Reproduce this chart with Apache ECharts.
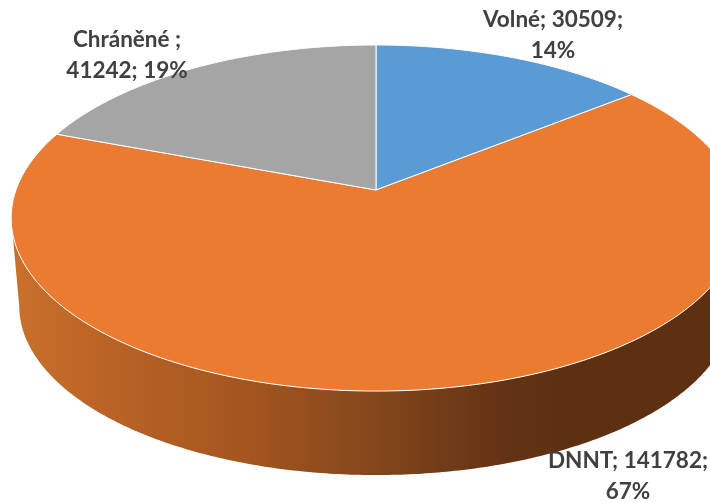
<!DOCTYPE html>
<html>
<head>
<meta charset="utf-8">
<style>html,body{margin:0;padding:0;background:#fff}#c{width:710px;height:503px}</style>
<script src="https://cdn.jsdelivr.net/npm/echarts@6/dist/echarts.min.js"></script>
</head>
<body>
<div id="c"></div>
<script>
const names = ['Volné', 'DNNT', 'Chráněné '];
const values = [30509, 141782, 41242];
const percentLabels = ['14%', '67%', '19%'];
const topColors = ['#5b9bd5', '#ea7b30', '#a5a5a5'];

// label layout: anchor and which part the line break follows
const labelLayout = [
  { x: 553, y: 35, breakAfter: 2 },
  { x: 628, y: 476, breakAfter: 2 },
  { x: 127, y: 55, breakAfter: 1 }
];
// 3D projection of the pie disc
const view = { cx: 376, cy: 190, rx: 360, ry: 168.5, k: -0.162 };
const base = { cy: 278.4, scale: 0.978 };

const total = values.reduce((a, b) => a + b, 0);
function rim(theta, cy, s) {
  const u = Math.sin(theta), v = -Math.cos(theta), w = 1 + view.k * v;
  return [view.cx + s * view.rx * u / w, cy + s * view.ry * v / w];
}
function span(i) {
  let before = 0;
  for (let j = 0; j < i; j++) before += values[j];
  return [before / total * 2 * Math.PI, (before + values[i]) / total * 2 * Math.PI];
}
function arc(a, b, cy, s) {
  const n = Math.max(2, Math.ceil((b - a) / 0.01));
  const pts = [];
  for (let i = 0; i <= n; i++) pts.push(rim(a + (b - a) * i / n, cy, s));
  return pts;
}
// the side wall only shows between the two silhouette tangents of the disc
const frontFrom = Math.acos(view.k);
const frontTo = 2 * Math.PI - frontFrom;
const wallFill = new echarts.graphic.LinearGradient(11, 0, 741, 0, [
  { offset: 0, color: '#c9712c' },
  { offset: 0.12, color: '#bb6426' },
  { offset: 0.314, color: '#a5561f' },
  { offset: 0.5, color: '#84461b' },
  { offset: 0.67, color: '#633314' },
  { offset: 0.75, color: '#5e3012' },
  { offset: 1, color: '#5e3012' }
], true);

const chart = echarts.init(document.getElementById('c'), null, { renderer: 'canvas' });
chart.setOption({
  animation: false,
  backgroundColor: '#ffffff',
  series: [
    {
      type: 'custom', coordinateSystem: 'none', z: 1, silent: true,
      data: values,
      renderItem(params) {
        const s = span(params.dataIndex);
        const a = Math.max(s[0], frontFrom), b = Math.min(s[1], frontTo);
        if (b <= a) return null;
        const pts = arc(a, b, view.cy, 1).concat(arc(a, b, base.cy, base.scale).reverse());
        return { type: 'polygon', shape: { points: pts }, style: { fill: wallFill } };
      }
    },
    {
      type: 'custom', coordinateSystem: 'none', z: 2, silent: true,
      data: values,
      renderItem(params) {
        const i = params.dataIndex;
        const [a, b] = span(i);
        const pts = [[view.cx, view.cy]].concat(arc(a, b, view.cy, 1));
        return {
          type: 'polygon', shape: { points: pts },
          style: { fill: topColors[i], stroke: '#ffffff', lineWidth: 1, lineJoin: 'round' }
        };
      }
    },
    {
      type: 'custom', coordinateSystem: 'none', z: 3, silent: true,
      data: values,
      renderItem(params, api) {
        const i = params.dataIndex, l = labelLayout[i];
        const parts = [names[i] + ';', api.value(0) + ';', percentLabels[i]];
        const text = parts.slice(0, l.breakAfter).join(' ') + '\n' + parts.slice(l.breakAfter).join(' ');
        return {
          type: 'text', x: l.x, y: l.y,
          style: {
            text, fill: '#404040', font: 'bold 22.5px Lato', lineHeight: 31,
            textAlign: 'center', textVerticalAlign: 'middle'
          }
        };
      }
    }
  ]
});
</script>
</body>
</html>
